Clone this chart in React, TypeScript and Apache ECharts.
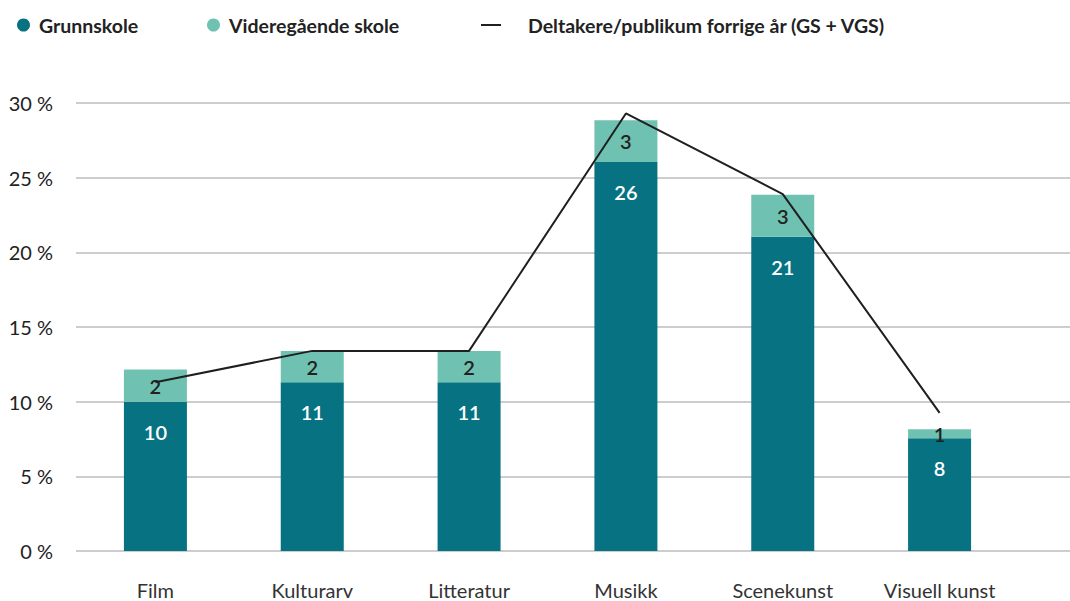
import React, { useEffect, useRef } from "react";
import * as echarts from "echarts";

const categories = ["Film", "Kulturarv", "Litteratur", "Musikk", "Scenekunst", "Visuell kunst"];
const grunnskole = [10.0, 11.3, 11.3, 26.05, 21.05, 7.55];
const videregaende = [2.15, 2.1, 2.1, 2.8, 2.8, 0.6];
const forrigeAar = [11.3, 13.4, 13.4, 29.3, 23.9, 9.25];
const yTicks = { min: 0, max: 30, interval: 5 };

const FONT = "Lato, 'Open Sans', sans-serif";
const C_GS = "#067282";
const C_VGS = "#6fc2b1";
const C_LINE = "#1f1f1f";

export default function App() {
  const ref = useRef<HTMLDivElement>(null);
  useEffect(() => {
    if (!ref.current) return;
    document.documentElement.style.overflow = "hidden";
    document.body.style.margin = "0";
    const chart = echarts.init(ref.current, null, { renderer: "svg" });
    const legendText = { fontFamily: FONT, fontWeight: "bold" as const, fontSize: 19.5, color: "#222" };
    chart.setOption({
      animation: false,
      backgroundColor: "#fff",
      textStyle: { fontFamily: FONT },
      legend: [
        {
          left: 12, top: 10, data: [{ name: "Grunnskole", icon: "circle" }],
          itemWidth: 13, itemHeight: 13,
          textStyle: { ...legendText, padding: [0, 0, 0, 4] },
        },
        {
          left: 202, top: 10, data: [{ name: "Videregående skole", icon: "circle" }],
          itemWidth: 13, itemHeight: 13,
          textStyle: { ...legendText, padding: [0, 0, 0, 4] },
        },
        {
          left: 476, top: 10, data: [{ name: "Deltakere/publikum forrige år (GS + VGS)", icon: "rect" }],
          itemWidth: 20, itemHeight: 2,
          textStyle: { ...legendText, padding: [0, 0, 0, 22] },
        },
      ],
      grid: [
        { left: 76, right: 0, top: 103, bottom: 50 },
        { left: 77, right: 52, top: 103, bottom: 50 },
      ],
      xAxis: [
        { gridIndex: 0, type: "value", show: false, min: 0, max: 1 },
        {
          gridIndex: 1, type: "category", data: categories,
          axisLine: { show: false }, axisTick: { show: false },
          axisLabel: { fontFamily: FONT, fontSize: 20, color: "#333", margin: 29 },
        },
      ],
      yAxis: [
        {
          gridIndex: 0, type: "value", ...yTicks,
          axisLabel: { formatter: "{value} %", fontFamily: FONT, fontSize: 20, color: "#222", margin: 23 },
          axisLine: { show: false }, axisTick: { show: false },
          splitLine: { lineStyle: { color: "#bdbdbd", width: 1.5 } },
        },
        { gridIndex: 1, type: "value", ...yTicks, show: false, splitLine: { show: false } },
      ],
      series: [
        {
          name: "Grunnskole", type: "bar", stack: "s", xAxisIndex: 1, yAxisIndex: 1,
          data: grunnskole, barWidth: 63, itemStyle: { color: C_GS },
          label: {
            show: true, position: "insideTop", distance: 20, color: "#fff",
            fontFamily: FONT, fontSize: 20, fontWeight: 600,
            formatter: (p: any) => String(Math.round(p.value)),
          },
        },
        {
          name: "Videregående skole", type: "bar", stack: "s", xAxisIndex: 1, yAxisIndex: 1,
          data: videregaende, barWidth: 63, itemStyle: { color: C_VGS },
          label: {
            show: true, position: "inside", color: "#222",
            fontFamily: FONT, fontSize: 20, fontWeight: 600,
            formatter: (p: any) => String(Math.round(p.value)),
          },
        },
        {
          name: "Deltakere/publikum forrige år (GS + VGS)", type: "line", xAxisIndex: 1, yAxisIndex: 1,
          data: forrigeAar, symbol: "none", z: 5,
          lineStyle: { color: C_LINE, width: 2 }, itemStyle: { color: C_LINE },
        },
      ],
    });
    return () => chart.dispose();
  }, []);
  return <div ref={ref} style={{ position: "fixed", left: 0, top: 0, width: 1070, height: 601 }} />;
}
